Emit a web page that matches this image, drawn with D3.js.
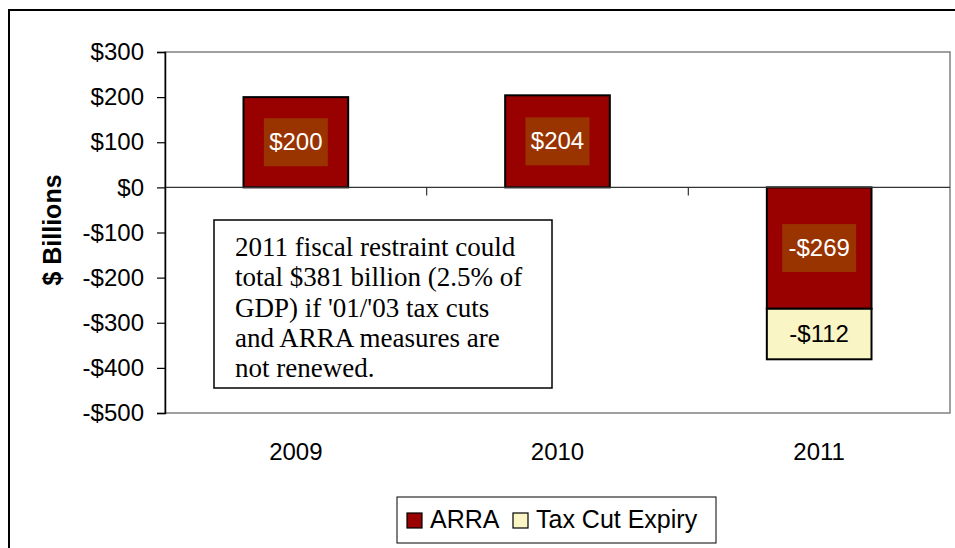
<!DOCTYPE html>
<html>
<head>
<meta charset="utf-8">
<script src="https://cdn.jsdelivr.net/npm/d3@7"></script>
<style>
  body { margin: 0; background: #fff; }
  svg { display: block; font-family: Arial, "Liberation Sans", sans-serif; }
</style>
</head>
<body>
<div id="chart"></div>
<script>
// data
var years = ["2009", "2010", "2011"];
var arra = [200, 204, -269];
var taxCut = [0, 0, -112];
var yTicks = [300, 200, 100, 0, -100, -200, -300, -400, -500];
var noteLines = ["2011 fiscal restraint could", "total $381 billion (2.5% of",
                 "GDP) if '01/'03 tax cuts", "and ARRA measures are", "not renewed."];

var width = 955, height = 548;
var svg = d3.select("#chart").append("svg")
            .attr("width", width)
            .attr("height", height);

// outer frame
svg.append("rect")
   .attr("x", 9).attr("y", 10)
   .attr("width", 960).attr("height", 560)
   .attr("fill", "none").attr("stroke", "#000").attr("stroke-width", 2);

var plotL = 165, plotR = 950, plotT = 52, plotB = 413;

var x = d3.scaleBand().domain(years).range([plotL, plotR]).paddingInner(0).paddingOuter(0);
var y = d3.scaleLinear().domain([-500, 300]).range([plotB, plotT]);

// plot area border (gray)
svg.append("rect")
   .attr("x", plotL).attr("y", plotT)
   .attr("width", plotR - plotL).attr("height", plotB - plotT)
   .attr("fill", "none").attr("stroke", "#808080").attr("stroke-width", 1.5);

var barW = x.bandwidth() * 0.4;

// stacked segments
var segs = [];
years.forEach(function(yr, i) {
  segs.push({year: yr, y0: 0, y1: arra[i], v: arra[i], fill: "#990000", txt: "#fff", bg: "#993300"});
  if (taxCut[i] !== 0) {
    segs.push({year: yr, y0: arra[i], y1: arra[i] + taxCut[i], v: taxCut[i], fill: "#FAF5C4", txt: "#000", bg: null});
  }
});

svg.selectAll("rect.bar")
   .data(segs)
   .enter()
   .append("rect")
   .attr("class", "bar")
   .attr("x", function(d){ return x(d.year) + (x.bandwidth() - barW) / 2; })
   .attr("y", function(d){ return y(Math.max(d.y0, d.y1)); })
   .attr("width", barW)
   .attr("height", function(d){ return Math.abs(y(d.y0) - y(d.y1)); })
   .attr("fill", function(d){ return d.fill; })
   .attr("stroke", "#000").attr("stroke-width", 2);

// zero line
svg.append("line")
   .attr("x1", plotL).attr("x2", plotR)
   .attr("y1", y(0)).attr("y2", y(0))
   .attr("stroke", "#333").attr("stroke-width", 1.2);

// category ticks on the zero line
svg.selectAll("line.ctick")
   .data(years.slice(1))
   .enter()
   .append("line")
   .attr("x1", function(d){ return x(d); }).attr("x2", function(d){ return x(d); })
   .attr("y1", y(0)).attr("y2", y(0) + 8)
   .attr("stroke", "#333").attr("stroke-width", 1.2);

// y axis
var yAxis = d3.axisLeft(y).tickValues(yTicks).tickSize(8).tickPadding(13)
              .tickFormat(function(d){ return (d < 0 ? "-$" : "$") + Math.abs(d); });
var gy = svg.append("g").attr("transform", "translate(" + plotL + ",0)").call(yAxis);
gy.select(".domain").attr("stroke", "#000").attr("stroke-width", 1.5);
gy.selectAll(".tick line").attr("stroke", "#000").attr("stroke-width", 1.2);
gy.selectAll(".tick text").attr("font-size", "24px").attr("fill", "#000")
  .attr("font-family", "Arial, 'Liberation Sans', sans-serif");

// x labels
svg.selectAll("text.xl")
   .data(years)
   .enter()
   .append("text")
   .attr("x", function(d){ return x(d) + x.bandwidth() / 2; })
   .attr("y", 460)
   .attr("text-anchor", "middle")
   .attr("font-size", "24px")
   .text(function(d){ return d; });

// y title
svg.append("text")
   .attr("transform", "translate(61,230) rotate(-90)")
   .attr("text-anchor", "middle")
   .attr("font-size", "25px").attr("font-weight", "bold")
   .text("$ Billions");

// value labels
var lab = svg.selectAll("g.lab")
   .data(segs)
   .enter()
   .append("g")
   .attr("class", "lab")
   .attr("transform", function(d){
     return "translate(" + (x(d.year) + x.bandwidth() / 2) + "," + ((y(d.y0) + y(d.y1)) / 2) + ")";
   });
lab.filter(function(d){ return d.bg; })
   .append("rect")
   .attr("x", function(d){ return d.v < 0 ? -37 : -32; })
   .attr("width", function(d){ return d.v < 0 ? 74 : 64; })
   .attr("y", -24).attr("height", 48)
   .attr("fill", function(d){ return d.bg; });
lab.append("text")
   .attr("text-anchor", "middle")
   .attr("dy", "0.32em")
   .attr("font-size", "24px")
   .attr("fill", function(d){ return d.txt; })
   .text(function(d){ return (d.v < 0 ? "-$" : "$") + Math.abs(d.v); });

// note box
svg.append("rect")
   .attr("x", 214).attr("y", 220).attr("width", 338).attr("height", 168)
   .attr("fill", "#fff").attr("stroke", "#000").attr("stroke-width", 1.5);
svg.selectAll("text.note")
   .data(noteLines)
   .enter()
   .append("text")
   .attr("x", 235)
   .attr("y", function(d, i){ return 256 + i * 30.25; })
   .attr("font-family", "'Liberation Serif', 'Times New Roman', serif")
   .attr("font-size", "27px")
   .text(function(d){ return d; });

// legend
var lg = svg.append("g");
lg.append("rect")
  .attr("x", 397).attr("y", 497).attr("width", 319).attr("height", 46)
  .attr("fill", "#fff").attr("stroke", "#000").attr("stroke-width", 1);
var legendItems = [{name: "ARRA", fill: "#990000", x: 407}, {name: "Tax Cut Expiry", fill: "#FAF5C4", x: 513}];
var li = lg.selectAll("g.li").data(legendItems).enter().append("g");
li.append("rect")
  .attr("x", function(d){ return d.x; }).attr("y", 513)
  .attr("width", 15).attr("height", 15)
  .attr("fill", function(d){ return d.fill; })
  .attr("stroke", "#000").attr("stroke-width", 1.2);
li.append("text")
  .attr("x", function(d){ return d.x + 23; })
  .attr("y", 528)
  .attr("font-size", "25px")
  .text(function(d){ return d.name; });
</script>
</body>
</html>
